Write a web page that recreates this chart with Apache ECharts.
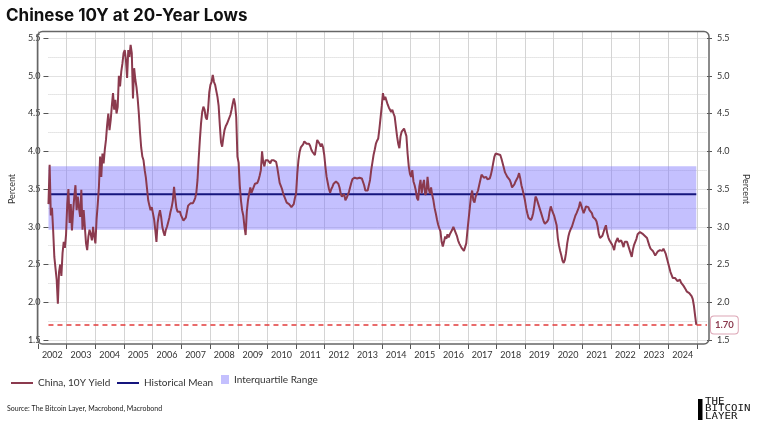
<!DOCTYPE html>
<html><head><meta charset="utf-8">
<script src="https://cdn.jsdelivr.net/npm/echarts@6/dist/echarts.min.js"></script>
<style>html,body{margin:0;padding:0;background:#fff}#c{width:758px;height:442px}</style>
</head><body><div id="c"></div>
<script>
const titleText = 'Chinese 10Y at 20-Year Lows';
const sourceText = 'Source: The Bitcoin Layer, Macrobond, Macrobond';
const logoLines = ['THE', 'BITCOIN', 'LAYER'];
const seriesNames = ['China, 10Y Yield', 'Historical Mean', 'Interquartile Range'];
const yearLabels = ['2002','2003','2004','2005','2006','2007','2008','2009','2010','2011','2012','2013',
  '2014','2015','2016','2017','2018','2019','2020','2021','2022','2023','2024'];
const startYear = 2002;
const pointsPerYear = 24;   // semi-monthly readings
const axisEndYear = 2025.38;
const yMin = 1.5, yMax = 5.5, yStep = 0.5;

// China 10Y yield, semi-monthly readings (percent)
const y2002 = [3.30,3.82,3.15,3.25,2.95,2.60,2.45,2.30,1.98,2.40,2.50,2.35,2.65,2.80,2.72,2.90,3.30,3.50,3.05,3.30,2.95,3.20,3.40,3.55];
const y2003 = [3.22,3.40,3.25,3.13,3.49,2.96,3.22,3.00,2.78,2.69,2.87,2.96,2.90,2.82,3.00,2.87,2.78,3.10,3.30,3.53,3.93,3.66,3.97,3.84];
const y2004 = [4.02,4.15,4.35,4.50,4.28,4.41,4.60,4.77,4.55,4.68,4.50,4.59,5.00,4.86,5.05,5.16,5.30,5.34,5.21,4.97,5.34,5.25,5.41,5.30];
const y2005 = [4.70,5.10,4.95,4.85,4.70,4.50,4.25,4.05,3.93,3.88,3.75,3.65,3.50,3.35,3.28,3.22,3.26,3.18,3.10,2.96,2.80,3.05,3.15,3.22];
const y2006 = [3.13,3.00,2.93,2.88,2.96,3.00,3.06,3.12,3.20,3.26,3.35,3.53,3.38,3.25,3.20,3.18,3.20,3.15,3.13,3.08,3.10,3.12,3.20,3.28];
const y2007 = [3.29,3.31,3.30,3.31,3.34,3.38,3.45,3.62,3.90,4.15,4.37,4.52,4.59,4.55,4.45,4.42,4.55,4.78,4.88,4.92,5.01,4.92,4.88,4.90];
const y2008 = [4.72,4.60,4.35,4.12,4.06,4.18,4.28,4.33,4.36,4.40,4.42,4.48,4.55,4.63,4.70,4.62,4.45,3.93,3.85,3.55,3.35,3.22,3.15,3.00];
const y2009 = [2.89,3.20,3.35,3.44,3.52,3.45,3.44,3.53,3.57,3.56,3.58,3.62,3.68,3.75,4.00,3.85,3.80,3.88,3.90,3.88,3.86,3.84,3.88,3.88];
const y2010 = [3.88,3.88,3.86,3.78,3.68,3.58,3.54,3.50,3.44,3.42,3.36,3.32,3.33,3.30,3.28,3.26,3.25,3.30,3.38,3.44,3.70,3.88,3.99,4.05];
const y2011 = [4.07,4.09,4.13,4.15,4.10,4.08,4.10,4.07,4.02,3.99,3.97,3.95,3.96,4.15,4.13,4.10,4.06,4.10,4.05,3.95,3.79,3.66,3.58,3.50];
const y2012 = [3.45,3.50,3.53,3.57,3.59,3.60,3.60,3.57,3.52,3.44,3.40,3.42,3.43,3.35,3.38,3.42,3.46,3.52,3.58,3.63,3.64,3.65,3.66,3.64];
const y2013 = [3.66,3.65,3.65,3.64,3.62,3.55,3.48,3.46,3.48,3.55,3.62,3.75,3.85,3.95,4.02,4.10,4.14,4.17,4.30,4.45,4.60,4.77,4.68,4.72];
const y2014 = [4.72,4.62,4.58,4.57,4.52,4.55,4.50,4.46,4.33,4.20,4.10,4.04,4.20,4.26,4.28,4.30,4.29,4.20,3.97,3.80,3.70,3.66,3.75,3.60];
const y2015 = [3.55,3.48,3.38,3.35,3.53,3.62,3.44,3.55,3.62,3.42,3.45,3.66,3.50,3.44,3.52,3.42,3.35,3.25,3.18,3.10,3.03,2.98,2.94,2.80];
const y2016 = [2.74,2.80,2.87,2.84,2.90,2.86,2.90,2.93,2.96,3.00,2.96,2.92,2.88,2.82,2.78,2.75,2.72,2.70,2.68,2.66,2.78,2.95,3.10,3.25];
const y2017 = [3.40,3.48,3.35,3.32,3.40,3.44,3.48,3.55,3.62,3.69,3.67,3.65,3.64,3.66,3.63,3.62,3.64,3.69,3.76,3.85,3.93,3.97,3.95,3.96];
const y2018 = [3.97,3.95,3.90,3.84,3.78,3.72,3.69,3.66,3.64,3.62,3.58,3.52,3.50,3.56,3.60,3.63,3.66,3.71,3.64,3.55,3.49,3.42,3.35,3.25];
const y2019 = [3.18,3.12,3.10,3.09,3.12,3.18,3.28,3.40,3.37,3.32,3.27,3.22,3.17,3.12,3.07,3.04,3.02,3.07,3.10,3.20,3.27,3.22,3.18,3.14];
const y2020 = [3.12,3.02,2.85,2.75,2.68,2.62,2.55,2.52,2.56,2.65,2.78,2.87,2.93,2.97,3.00,3.05,3.10,3.15,3.18,3.20,3.26,3.33,3.28,3.30];
const y2021 = [3.18,3.22,3.27,3.29,3.26,3.22,3.20,3.18,3.13,3.11,3.10,3.07,3.00,2.90,2.85,2.83,2.88,2.93,2.98,3.02,2.92,2.86,2.82,2.80];
const y2022 = [2.77,2.74,2.69,2.78,2.82,2.85,2.80,2.78,2.82,2.78,2.73,2.80,2.82,2.80,2.78,2.70,2.65,2.60,2.70,2.76,2.80,2.84,2.90,2.92];
const y2023 = [2.93,2.92,2.91,2.90,2.88,2.87,2.85,2.80,2.75,2.71,2.69,2.68,2.66,2.62,2.64,2.67,2.69,2.69,2.67,2.68,2.71,2.69,2.64,2.58];
const y2024 = [2.52,2.46,2.40,2.36,2.32,2.33,2.32,2.30,2.28,2.27,2.30,2.26,2.24,2.22,2.20,2.17,2.14,2.15,2.12,2.13,2.08,2.04,1.95,1.82];
const yEnd = [1.70];

const historicalMean = 3.43;
const iqrLow = 2.96, iqrHigh = 3.80;
const bandSpan = [2002, 2025];

const yieldValues = [].concat(y2002,y2003,y2004,y2005,y2006,y2007,y2008,y2009,y2010,y2011,y2012,y2013,
  y2014,y2015,y2016,y2017,y2018,y2019,y2020,y2021,y2022,y2023,y2024,yEnd);
const lastValue = yieldValues[yieldValues.length - 1];
const yieldData = yieldValues.map((v, i) => [startYear + i / pointsPerYear, v]);

const FONT = 'Lato';
const legendText = {fontSize: 10, color: '#333', fontFamily: FONT};
const chart = echarts.init(document.getElementById('c'));
chart.setOption({
  animation: false,
  backgroundColor: '#ffffff',
  textStyle: {fontFamily: FONT},
  title: {text: titleText, left: 6, top: 7, padding: 0,
    textStyle: {fontFamily: 'Inter', fontSize: 17, fontWeight: 'bold', color: '#111'}},
  grid: [
    {left: 38, right: 49, top: 38, bottom: 102},
    {left: 38, right: 61, top: 31, bottom: 98}
  ],
  xAxis: [
    {type: 'value', gridIndex: 0, min: startYear, max: axisEndYear, show: false},
    {type: 'category', gridIndex: 1, data: yearLabels, boundaryGap: true,
      axisLine: {show: false},
      axisTick: {show: true, length: 5, interval: 0, lineStyle: {color: '#555'}},
      axisLabel: {interval: 0, fontSize: 9, color: '#333', margin: 7},
      splitLine: {show: true, interval: 0, lineStyle: {color: '#d4d4d4', width: 1}}}
  ],
  yAxis: [
    {type: 'value', gridIndex: 0, position: 'left', min: yMin, max: yMax, interval: yStep,
      axisLine: {show: false},
      axisTick: {show: true, length: 5, lineStyle: {color: '#555'}},
      axisLabel: {fontSize: 9, color: '#333', margin: 8, formatter: v => v.toFixed(1)},
      splitLine: {show: true, lineStyle: {color: '#e2e2e2'}},
      minorTick: {show: false, splitNumber: 2},
      minorSplitLine: {show: true, lineStyle: {color: '#cfcfcf', type: 'dotted'}},
      name: 'Percent', nameLocation: 'middle', nameGap: 27,
      nameTextStyle: {fontSize: 9, color: '#333'}},
    {type: 'value', gridIndex: 0, position: 'right', min: yMin, max: yMax, interval: yStep,
      axisLine: {show: false},
      axisTick: {show: true, length: 5, lineStyle: {color: '#555'}},
      axisLabel: {fontSize: 9, color: '#333', margin: 10, formatter: v => v.toFixed(1)},
      splitLine: {show: false},
      name: 'Percent', nameLocation: 'middle', nameGap: 34, nameRotate: -90,
      nameTextStyle: {fontSize: 9, color: '#333'}},
    {type: 'value', gridIndex: 1, min: 0, max: 1, show: false}
  ],
  legend: [
    {data: [seriesNames[0]], left: 6, top: 373, icon: 'rect', itemWidth: 22, itemHeight: 2, textStyle: legendText},
    {data: [seriesNames[1]], left: 112, top: 373, icon: 'rect', itemWidth: 22, itemHeight: 2, textStyle: legendText},
    {data: [seriesNames[2]], left: 216, top: 369.5, icon: 'rect', itemWidth: 8, itemHeight: 9, textStyle: legendText}
  ],
  series: [
    {name: seriesNames[2], type: 'line', xAxisIndex: 0, yAxisIndex: 0, data: [], color: '#c4c0fe', z: 1,
      markArea: {silent: true, itemStyle: {color: 'rgba(124,115,253,0.45)'},
        data: [[{xAxis: bandSpan[0], yAxis: iqrLow}, {xAxis: bandSpan[1], yAxis: iqrHigh}]]}},
    {name: seriesNames[1], type: 'line', xAxisIndex: 0, yAxisIndex: 0, color: '#15157d', z: 2,
      symbol: 'none', lineStyle: {color: '#15157d', width: 2},
      data: bandSpan.map(x => [x, historicalMean])},
    {name: seriesNames[0], type: 'line', xAxisIndex: 0, yAxisIndex: 0, color: '#8b3a4e', z: 3,
      symbol: 'none', lineStyle: {color: '#8b3a4e', width: 2}, data: yieldData,
      markLine: {silent: true, symbol: ['none', 'none'],
        lineStyle: {color: '#e23b3b', type: [5, 4], width: 1.5},
        label: {show: true, position: 'end', distance: 4, formatter: lastValue.toFixed(2),
          color: '#8b3a4e', fontWeight: 'bold', fontSize: 9.5, backgroundColor: '#fff',
          borderColor: '#dca5b5', borderWidth: 1, borderRadius: 3, padding: [4, 4, 3, 4]},
        data: [{yAxis: lastValue}]}}
  ],
  graphic: [
    {type: 'rect', silent: true, z: 100, shape: {x: 37.5, y: 31.5, width: 671.5, height: 312.5, r: 5},
      style: {fill: 'none', stroke: '#666', lineWidth: 1.5}},
    {type: 'text', silent: true, x: 7, y: 409, style: {text: sourceText, font: '7px Lato', fill: '#222', textVerticalAlign: 'middle'}},
    {type: 'rect', silent: true, shape: {x: 698, y: 399, width: 4.5, height: 21}, style: {fill: '#000'}},
    {type: 'text', silent: true, x: 705, y: 402, scaleX: 1.35, style: {text: logoLines[0], font: '8px "DejaVu Sans Mono"', fill: '#111', textVerticalAlign: 'middle'}},
    {type: 'text', silent: true, x: 705, y: 409.3, scaleX: 1.35, style: {text: logoLines[1], font: '8px "DejaVu Sans Mono"', fill: '#111', textVerticalAlign: 'middle'}},
    {type: 'text', silent: true, x: 705, y: 416.7, scaleX: 1.35, style: {text: logoLines[2], font: '8px "DejaVu Sans Mono"', fill: '#111', textVerticalAlign: 'middle'}}
  ]
});
</script>
</body></html>
